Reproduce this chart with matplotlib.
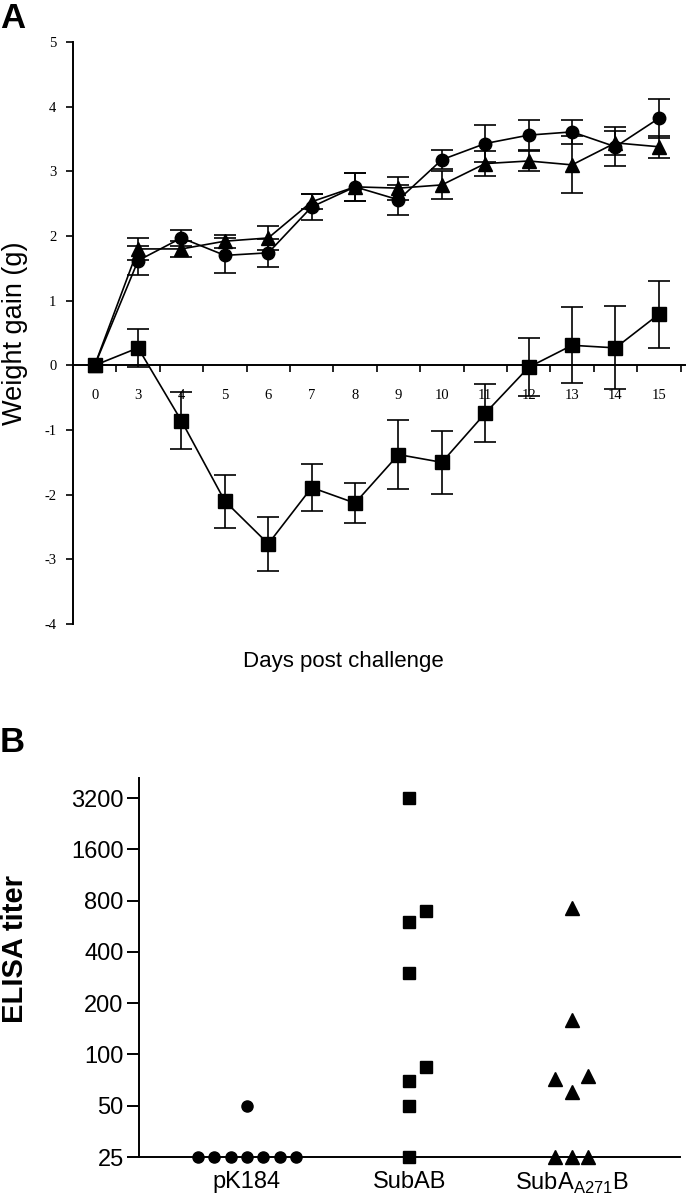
import numpy as np
import matplotlib

matplotlib.use("Agg")
import matplotlib.pyplot as plt
from matplotlib.ticker import FixedLocator, NullFormatter

# ---------- panel A: weight gain ----------
days = ["0", "3", "4", "5", "6", "7", "8", "9", "10", "11", "12", "13", "14", "15"]

circle_mean = [0, 1.62, 1.97, 1.70, 1.74, 2.45, 2.76, 2.56, 3.18, 3.43, 3.56, 3.61, 3.38, 3.82]
circle_err = [0, 0.23, 0.13, 0.27, 0.22, 0.20, 0.22, 0.23, 0.15, 0.28, 0.23, 0.18, 0.30, 0.30]

triangle_mean = [0, 1.80, 1.80, 1.92, 1.97, 2.53, 2.76, 2.74, 2.79, 3.12, 3.16, 3.10, 3.44, 3.38]
triangle_err = [0, 0.17, 0.12, 0.10, 0.18, 0.12, 0.22, 0.18, 0.22, 0.19, 0.16, 0.44, 0.18, 0.17]

square_mean = [0, 0.27, -0.86, -2.10, -2.76, -1.89, -2.13, -1.38, -1.50, -0.74, -0.03, 0.31, 0.27, 0.79]
square_err = [0, 0.29, 0.44, 0.41, 0.42, 0.36, 0.31, 0.53, 0.49, 0.45, 0.45, 0.59, 0.64, 0.52]

# ---------- panel B: ELISA titers ----------
groups = ["pK184", "SubAB", r"SubA$_\mathregular{A271}$B"]
pk184_titer = [25, 25, 25, 25, 25, 25, 25, 50]
pk184_col = [-3, -2, -1, 0, 1, 2, 3, 0]
subab_titer = [3200, 700, 600, 300, 85, 70, 50, 25]
subab_col = [0, 1, 0, 0, 1, 0, 0, 0]
suba271_titer = [720, 160, 75, 72, 60, 25, 25, 25]
suba271_col = [0, 0, 1, -1, 0, -1, 0, 1]
titer_ticks = [25, 50, 100, 200, 400, 800, 1600, 3200]

SANS = "Liberation Sans"
SERIF = "Liberation Serif"
plt.rcParams.update({"font.family": SANS, "axes.linewidth": 1.4})

fig = plt.figure(figsize=(6.86, 12), dpi=100)

# ---------- A ----------
axA = fig.add_axes([0.1064, 0.48, 0.892, 0.485])
x = np.arange(len(days))
series = [
    (circle_mean, circle_err, "o", 9),
    (triangle_mean, triangle_err, "^", 10),
    (square_mean, square_err, "s", 9.5),
]
for mean, err, mk, ms in series:
    mean = np.array(mean)
    err = np.array(err)
    axA.plot(x, mean, "-", color="black", lw=1.2, marker=mk, ms=ms, zorder=3)
    keep = err > 0
    axA.errorbar(x[keep], mean[keep], yerr=err[keep], fmt="none", ecolor="black",
                 elinewidth=1.2, capsize=8, capthick=1.2, zorder=3)

axA.set_xlim(-0.5, 13.6)
axA.set_ylim(-4, 5)
axA.spines["top"].set_visible(False)
axA.spines["right"].set_visible(False)
axA.spines["bottom"].set_position(("data", 0))
axA.spines["bottom"].set_zorder(2)
axA.set_yticks(range(-4, 6))
axA.set_yticklabels([str(v) for v in range(-4, 6)], family=SERIF, fontsize=10.5)
axA.set_xticks(x)
axA.set_xticklabels(days, family=SERIF, fontsize=10.5)
axA.xaxis.set_minor_locator(FixedLocator(np.arange(0.5, 13.6, 1)))
axA.xaxis.set_minor_formatter(NullFormatter())
axA.tick_params(axis="x", which="major", length=0, pad=17)
axA.tick_params(axis="x", which="minor", length=5, width=1.2, direction="out")
axA.tick_params(axis="y", length=5, width=1.2, direction="out", pad=7)
fig.text(15 / 686, 1 - 333 / 1200, "Weight gain (g)", fontsize=19.5,
         rotation=90, ha="center", va="center")
fig.text(0.5, 1 - 662 / 1200, "Days post challenge", fontsize=16,
         ha="center", va="center")
fig.text(0.0, 1 - 18 / 1200, "A", fontsize=25, fontweight="bold",
         ha="left", va="center")

# ---------- B ----------
axB = fig.add_axes([0.2026, 0.0358, 0.7884, 0.3159])
step = 0.101
for pos, (vals, cols, mk, ms) in enumerate([
    (pk184_titer, pk184_col, "o", 8),
    (subab_titer, subab_col, "s", 8.5),
    (suba271_titer, suba271_col, "^", 9.5),
]):
    xs = [pos + c * step for c in cols]
    axB.plot(xs, vals, linestyle="none", marker=mk, ms=ms, color="black",
             clip_on=False, zorder=3)

axB.set_yscale("log", base=2)
axB.set_ylim(25, 4200)
axB.set_xlim(-0.665, 2.665)
axB.set_yticks(titer_ticks)
axB.set_yticklabels([str(t) for t in titer_ticks], fontsize=17)
axB.yaxis.set_minor_locator(FixedLocator([]))
axB.set_xticks(range(3))
axB.set_xticklabels(groups, fontsize=17)
axB.tick_params(axis="x", length=0, pad=10)
axB.tick_params(axis="y", length=9, width=1.4, direction="out", pad=2)
axB.spines["top"].set_visible(False)
axB.spines["right"].set_visible(False)
fig.text(15 / 686, 1 - 949 / 1200, "ELISA titer", fontsize=21, fontweight="bold",
         rotation=90, ha="center", va="center")
fig.text(0.0, 1 - 743 / 1200, "B", fontsize=25, fontweight="bold",
         ha="left", va="center")

fig.savefig("out.png", dpi=100)
